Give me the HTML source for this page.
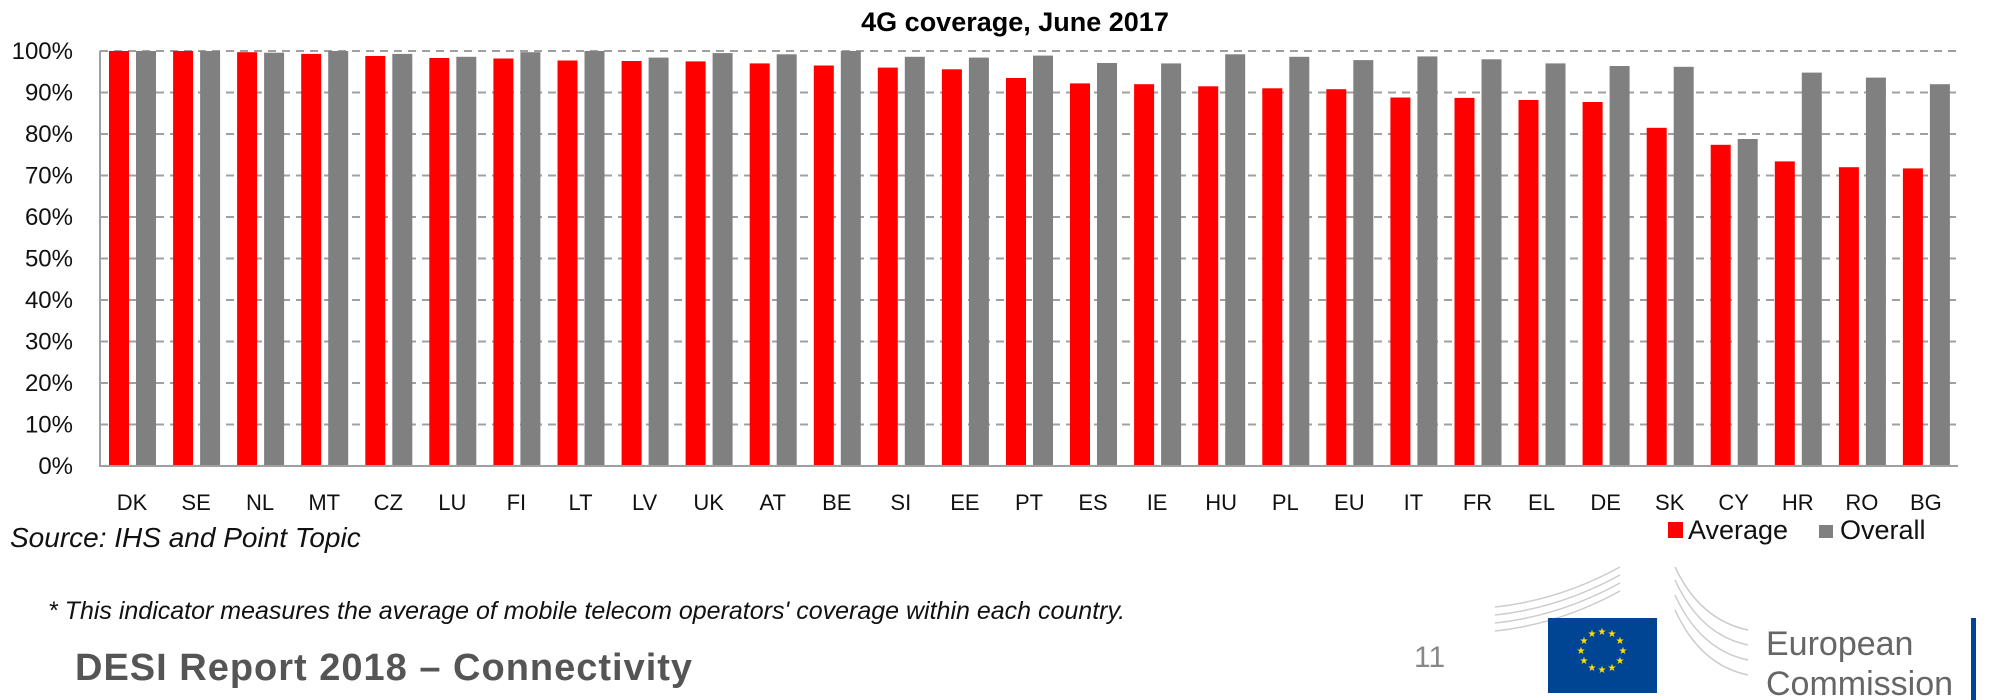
<!DOCTYPE html>
<html><head><meta charset="utf-8"><style>
html,body{margin:0;padding:0;background:#fff;}
svg{display:block;}
</style></head><body>
<svg width="2005" height="700" viewBox="0 0 2005 700" xmlns="http://www.w3.org/2000/svg" font-family="Liberation Sans, sans-serif">
<text x="1015" y="31" text-anchor="middle" font-size="27" font-weight="bold" fill="#000">4G coverage, June 2017</text>
<g stroke="#a0a0a0" stroke-width="2" stroke-dasharray="8,6">
<line x1="100" y1="51" x2="1958" y2="51"/><line x1="100" y1="92.5" x2="1958" y2="92.5"/><line x1="100" y1="134" x2="1958" y2="134"/><line x1="100" y1="175.5" x2="1958" y2="175.5"/><line x1="100" y1="217" x2="1958" y2="217"/><line x1="100" y1="258.5" x2="1958" y2="258.5"/><line x1="100" y1="300" x2="1958" y2="300"/><line x1="100" y1="341.5" x2="1958" y2="341.5"/><line x1="100" y1="383" x2="1958" y2="383"/><line x1="100" y1="424.5" x2="1958" y2="424.5"/>
</g>
<g font-size="24" fill="#111" text-anchor="end">
<text x="73" y="59">100%</text><text x="73" y="100.5">90%</text><text x="73" y="142">80%</text><text x="73" y="183.5">70%</text><text x="73" y="225">60%</text><text x="73" y="266.5">50%</text><text x="73" y="308">40%</text><text x="73" y="349.5">30%</text><text x="73" y="391">20%</text><text x="73" y="432.5">10%</text><text x="73" y="474">0%</text>
</g>
<g>
<g transform="translate(100,0)"><rect x="9" y="51" width="20" height="415" fill="#ff0000"/><rect x="36" y="51" width="20" height="415" fill="#808080"/></g>
<g transform="translate(164.1,0)"><rect x="9" y="51" width="20" height="415" fill="#ff0000"/><rect x="36" y="51" width="20" height="415" fill="#808080"/></g>
<g transform="translate(228.1,0)"><rect x="9" y="52.2" width="20" height="413.8" fill="#ff0000"/><rect x="36" y="52.7" width="20" height="413.3" fill="#808080"/></g>
<g transform="translate(292.2,0)"><rect x="9" y="53.9" width="20" height="412.1" fill="#ff0000"/><rect x="36" y="51" width="20" height="415" fill="#808080"/></g>
<g transform="translate(356.3,0)"><rect x="9" y="56" width="20" height="410" fill="#ff0000"/><rect x="36" y="53.9" width="20" height="412.1" fill="#808080"/></g>
<g transform="translate(420.3,0)"><rect x="9" y="58" width="20" height="408" fill="#ff0000"/><rect x="36" y="56.8" width="20" height="409.2" fill="#808080"/></g>
<g transform="translate(484.4,0)"><rect x="9" y="58.5" width="20" height="407.5" fill="#ff0000"/><rect x="36" y="52.2" width="20" height="413.8" fill="#808080"/></g>
<g transform="translate(548.5,0)"><rect x="9" y="60.5" width="20" height="405.5" fill="#ff0000"/><rect x="36" y="51" width="20" height="415" fill="#808080"/></g>
<g transform="translate(612.6,0)"><rect x="9" y="61" width="20" height="405" fill="#ff0000"/><rect x="36" y="57.6" width="20" height="408.4" fill="#808080"/></g>
<g transform="translate(676.6,0)"><rect x="9" y="61.4" width="20" height="404.6" fill="#ff0000"/><rect x="36" y="53.1" width="20" height="412.9" fill="#808080"/></g>
<g transform="translate(740.7,0)"><rect x="9" y="63.4" width="20" height="402.6" fill="#ff0000"/><rect x="36" y="54.3" width="20" height="411.7" fill="#808080"/></g>
<g transform="translate(804.8,0)"><rect x="9" y="65.5" width="20" height="400.5" fill="#ff0000"/><rect x="36" y="51" width="20" height="415" fill="#808080"/></g>
<g transform="translate(868.8,0)"><rect x="9" y="67.6" width="20" height="398.4" fill="#ff0000"/><rect x="36" y="56.8" width="20" height="409.2" fill="#808080"/></g>
<g transform="translate(932.9,0)"><rect x="9" y="69.3" width="20" height="396.7" fill="#ff0000"/><rect x="36" y="57.6" width="20" height="408.4" fill="#808080"/></g>
<g transform="translate(997,0)"><rect x="9" y="78" width="20" height="388" fill="#ff0000"/><rect x="36" y="55.6" width="20" height="410.4" fill="#808080"/></g>
<g transform="translate(1061,0)"><rect x="9" y="83.4" width="20" height="382.6" fill="#ff0000"/><rect x="36" y="63" width="20" height="403" fill="#808080"/></g>
<g transform="translate(1125.1,0)"><rect x="9" y="84.2" width="20" height="381.8" fill="#ff0000"/><rect x="36" y="63.4" width="20" height="402.6" fill="#808080"/></g>
<g transform="translate(1189.2,0)"><rect x="9" y="86.3" width="20" height="379.7" fill="#ff0000"/><rect x="36" y="54.3" width="20" height="411.7" fill="#808080"/></g>
<g transform="translate(1253.3,0)"><rect x="9" y="88.3" width="20" height="377.7" fill="#ff0000"/><rect x="36" y="56.8" width="20" height="409.2" fill="#808080"/></g>
<g transform="translate(1317.3,0)"><rect x="9" y="89.2" width="20" height="376.8" fill="#ff0000"/><rect x="36" y="60.1" width="20" height="405.9" fill="#808080"/></g>
<g transform="translate(1381.4,0)"><rect x="9" y="97.5" width="20" height="368.5" fill="#ff0000"/><rect x="36" y="56.4" width="20" height="409.6" fill="#808080"/></g>
<g transform="translate(1445.5,0)"><rect x="9" y="97.9" width="20" height="368.1" fill="#ff0000"/><rect x="36" y="59.3" width="20" height="406.7" fill="#808080"/></g>
<g transform="translate(1509.5,0)"><rect x="9" y="100" width="20" height="366" fill="#ff0000"/><rect x="36" y="63.4" width="20" height="402.6" fill="#808080"/></g>
<g transform="translate(1573.6,0)"><rect x="9" y="102" width="20" height="364" fill="#ff0000"/><rect x="36" y="66" width="20" height="400" fill="#808080"/></g>
<g transform="translate(1637.7,0)"><rect x="9" y="127.8" width="20" height="338.2" fill="#ff0000"/><rect x="36" y="66.8" width="20" height="399.2" fill="#808080"/></g>
<g transform="translate(1701.7,0)"><rect x="9" y="144.8" width="20" height="321.2" fill="#ff0000"/><rect x="36" y="139" width="20" height="327" fill="#808080"/></g>
<g transform="translate(1765.8,0)"><rect x="9" y="161.4" width="20" height="304.6" fill="#ff0000"/><rect x="36" y="72.6" width="20" height="393.4" fill="#808080"/></g>
<g transform="translate(1829.9,0)"><rect x="9" y="167.2" width="20" height="298.8" fill="#ff0000"/><rect x="36" y="77.6" width="20" height="388.4" fill="#808080"/></g>
<g transform="translate(1893.9,0)"><rect x="9" y="168.4" width="20" height="297.6" fill="#ff0000"/><rect x="36" y="84.2" width="20" height="381.8" fill="#808080"/></g>
</g>
<line x1="100" y1="51" x2="100" y2="466" stroke="#a0a0a0" stroke-width="2"/>
<line x1="99" y1="466" x2="1958" y2="466" stroke="#a0a0a0" stroke-width="2"/>
<g font-size="22" fill="#111" text-anchor="middle">
<text x="132" y="510">DK</text><text x="196.1" y="510">SE</text><text x="260.1" y="510">NL</text><text x="324.2" y="510">MT</text><text x="388.3" y="510">CZ</text><text x="452.3" y="510">LU</text><text x="516.4" y="510">FI</text><text x="580.5" y="510">LT</text><text x="644.6" y="510">LV</text><text x="708.6" y="510">UK</text><text x="772.7" y="510">AT</text><text x="836.8" y="510">BE</text><text x="900.8" y="510">SI</text><text x="964.9" y="510">EE</text><text x="1029" y="510">PT</text><text x="1093" y="510">ES</text><text x="1157.1" y="510">IE</text><text x="1221.2" y="510">HU</text><text x="1285.3" y="510">PL</text><text x="1349.3" y="510">EU</text><text x="1413.4" y="510">IT</text><text x="1477.5" y="510">FR</text><text x="1541.5" y="510">EL</text><text x="1605.6" y="510">DE</text><text x="1669.7" y="510">SK</text><text x="1733.7" y="510">CY</text><text x="1797.8" y="510">HR</text><text x="1861.9" y="510">RO</text><text x="1925.9" y="510">BG</text>
</g>
<text x="10" y="547" font-size="28" font-style="italic" fill="#111">Source: IHS and Point Topic</text>
<rect x="1668" y="522" width="15" height="16" fill="#ff0000"/>
<text x="1688" y="539" font-size="27" fill="#111">Average</text>
<rect x="1819" y="525" width="14" height="13" fill="#808080"/>
<text x="1840" y="539" font-size="27" fill="#111">Overall</text>
<text x="48" y="619" font-size="25" font-style="italic" fill="#111">* This indicator measures the average of mobile telecom operators' coverage within each country.</text>
<text x="75" y="680" font-size="38" font-weight="bold" fill="#555" letter-spacing="1">DESI Report 2018 – Connectivity</text>
<text x="1414" y="667" font-size="30" fill="#888">11</text>
<g stroke="#ccc" stroke-width="1.5" fill="none">
<path d="M1495 607 Q1560 600 1620 567"/><path d="M1495 615 Q1560 608 1620 575"/><path d="M1495 623 Q1560 616 1620 583"/><path d="M1495 631 Q1560 624 1620 591"/>
<path d="M1675 567 Q1700 620 1748 630"/><path d="M1675 580 Q1700 635 1748 645"/><path d="M1675 595 Q1700 650 1748 660"/><path d="M1675 610 Q1700 665 1748 675"/>
</g>
<rect x="1548" y="618" width="109" height="75" fill="#004494"/>
<g fill="#ffdd00" font-size="10" text-anchor="middle">
<text x="1602" y="635">★</text><text x="1612" y="637">★</text><text x="1620" y="644">★</text><text x="1623" y="654">★</text><text x="1620" y="664">★</text><text x="1612" y="671">★</text><text x="1602" y="673">★</text><text x="1592" y="671">★</text><text x="1584" y="664">★</text><text x="1581" y="654">★</text><text x="1584" y="644">★</text><text x="1592" y="637">★</text>
</g>
<text x="1766" y="655" font-size="34" fill="#666">European</text>
<text x="1766" y="695" font-size="34" fill="#666">Commission</text>
<rect x="1971" y="618" width="5" height="82" fill="#004494"/>
</svg>
</body></html>
